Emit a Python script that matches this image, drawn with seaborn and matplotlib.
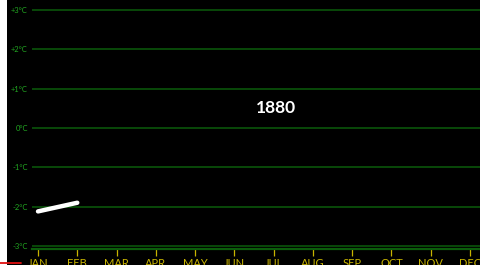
import matplotlib
matplotlib.use("Agg")
import matplotlib.pyplot as plt
import seaborn as sns
import pandas as pd

# data
months = ["JAN", "FEB", "MAR", "APR", "MAY", "JUN", "JUL", "AUG", "SEP", "OCT", "NOV", "DEC"]
temps_1880 = [-2.12, -1.9]
y_ticks = [-3, -2, -1, 0, 1, 2, 3]
y_labels = ["-3°C", "-2°C", "-1°C", "0°C", "+1°C", "+2°C", "+3°C"]
year = "1880"

sns.set_theme(style="dark")
plt.rcParams["font.family"] = ["Lato", "DejaVu Sans"]

W, H = 481, 265
fig = plt.figure(figsize=(W / 100, H / 100), dpi=100, facecolor="black")
ax = fig.add_axes([32 / W, 1 - 249 / H, (W - 32) / W, 249 / H])
ax.set_facecolor("black")

df = pd.DataFrame({"month": range(len(temps_1880)), "temp": temps_1880})
sns.lineplot(data=df, x="month", y="temp", color="white", linewidth=3.2, ax=ax)

ax.set_xlim(-0.153, 11.28)
ax.set_ylim(-3.076, 3.254)
ax.set_xticks(range(len(months)))
ax.set_xticklabels(months)
ax.set_yticks(y_ticks)
ax.set_yticklabels(y_labels)
ax.set_xlabel("")
ax.set_ylabel("")

ax.grid(axis="y", color="#0b5c0b", linewidth=1.1)
ax.grid(axis="x", visible=False)
for s in ["top", "right", "left"]:
    ax.spines[s].set_visible(False)
ax.spines["bottom"].set_color("#0b5c0b")
ax.spines["bottom"].set_linewidth(1.6)

ax.tick_params(axis="x", colors="#c8b400", length=5, width=0.9, pad=1.5,
               labelsize=8, bottom=True, direction="out")
ax.tick_params(axis="y", colors="#22a822", length=0, pad=3, labelsize=5.5)

ax.text(6.06, 0.51, year, color="white", fontsize=12.5, fontweight="bold",
        ha="center", va="center")

# white strip on the left and red marker at the bottom
fig.patches.append(plt.Rectangle((0, 0), 7 / W, 1, transform=fig.transFigure,
                                 facecolor="white", edgecolor="none", zorder=0))
fig.add_artist(plt.Line2D([0, 21 / W], [2.5 / H, 2.5 / H], transform=fig.transFigure,
                          color="#e01010", linewidth=1.3))

fig.savefig("out.png", dpi=100, facecolor="black")
